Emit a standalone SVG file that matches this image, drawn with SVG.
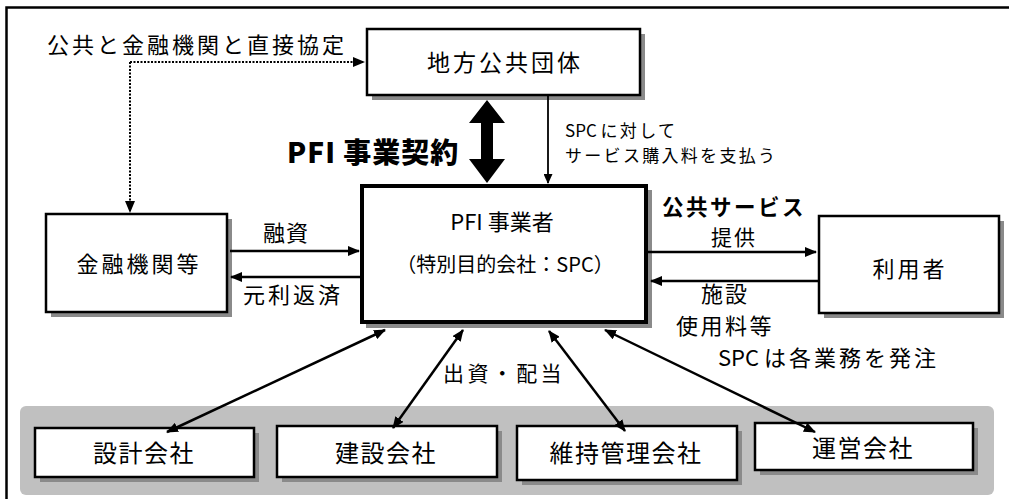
<svg xmlns="http://www.w3.org/2000/svg" width="1009" height="499" viewBox="0 0 1009 499">
<style>
text{font-family:"Noto Sans CJK JP","Noto Sans",sans-serif;fill:#000}
.box{fill:#fff;stroke:#000;stroke-width:2.5}
.shadow{fill:#8a8a8a}
.lbl{font-size:22px;letter-spacing:3px}
.bl{font-size:24px;letter-spacing:1.5px;text-anchor:middle}
.c{text-anchor:middle}
.ln{stroke:#000;stroke-width:2.5;fill:none}
</style>
<defs>
<marker id="ah" viewBox="0 0 12 10" markerWidth="12" markerHeight="10" refX="11" refY="5" orient="auto-start-reverse" markerUnits="userSpaceOnUse">
<path d="M0,0 L12,5 L0,10 z" fill="#000"/>
</marker>
<marker id="ahs" viewBox="0 0 10 9" markerWidth="10" markerHeight="9" refX="9" refY="4.5" orient="auto" markerUnits="userSpaceOnUse">
<path d="M0,0 L10,4.5 L0,9 z" fill="#000"/>
</marker>
</defs>
<rect width="1009" height="499" fill="#fff"/>
<path d="M6.5,499 L6.5,7.5 L1009,7.5" fill="none" stroke="#000" stroke-width="2.5"/>
<rect id="panel" x="20" y="406" width="974" height="89" rx="6" fill="#c0c0c0"/>

<g id="n-chihou">
<rect class="shadow" x="372" y="34" width="273" height="66"/>
<rect class="box" x="367" y="29" width="273" height="66"/>
<text class="c" x="505" y="70.5" style="font-size:23px;letter-spacing:3px">地方公共団体</text>
</g>

<g id="n-kinyu">
<rect class="shadow" x="51" y="219" width="181" height="98"/>
<rect class="box" x="46" y="214" width="181" height="98"/>
<text class="lbl c" x="139" y="272">金融機関等</text>
</g>

<g id="n-pfi">
<rect class="shadow" x="366" y="190" width="286" height="138"/>
<rect x="362" y="186" width="284" height="136" fill="#fff" stroke="#000" stroke-width="4"/>
<text class="c" x="502" y="230" style="font-size:22px">PFI 事業者</text>
<text class="c" x="505" y="271.5" style="font-size:20px">（特別目的会社：SPC）</text>
</g>

<g id="n-riyou">
<rect class="shadow" x="824" y="221" width="180" height="97"/>
<rect class="box" x="819" y="216" width="180" height="97"/>
<text class="lbl c" x="910" y="276.5">利用者</text>
</g>

<g id="n-sekkei">
<rect class="shadow" x="40" y="433" width="219" height="49"/>
<rect class="box" x="35" y="428" width="219" height="49"/>
<text class="bl" x="144" y="462">設計会社</text>
</g>
<g id="n-kensetsu">
<rect class="shadow" x="282" y="431" width="220" height="51"/>
<rect class="box" x="277" y="426" width="220" height="51"/>
<text class="bl" x="386" y="462">建設会社</text>
</g>
<g id="n-iji">
<rect class="shadow" x="522" y="431" width="220" height="54"/>
<rect class="box" x="517" y="426" width="220" height="54"/>
<text class="bl" x="626" y="462">維持管理会社</text>
</g>
<g id="n-unei">
<rect class="shadow" x="760" y="428" width="218" height="47"/>
<rect class="box" x="755" y="423" width="218" height="47"/>
<text class="bl" x="863" y="457">運営会社</text>
</g>

<g id="connectors">
<path d="M130,62 L364,62" stroke="#000" stroke-width="2" stroke-dasharray="2,1.5" fill="none" marker-end="url(#ah)"/>
<path d="M130,62 L130,212" stroke="#000" stroke-width="2" stroke-dasharray="2,1.5" fill="none" marker-end="url(#ah)"/>
<polygon points="487,100 505,123 493,123 493,159 505,159 487,183 469,159 481,159 481,123 469,123" fill="#000"/>
<path d="M548,96 L548,183" stroke="#000" stroke-width="1.8" fill="none" marker-end="url(#ahs)"/>
<path class="ln" d="M230,251 L359,251" marker-end="url(#ah)"/>
<path class="ln" d="M361,277 L231,277" marker-end="url(#ah)"/>
<path class="ln" d="M648,252 L816,252" marker-end="url(#ah)"/>
<path class="ln" d="M819,281 L651,281" marker-end="url(#ah)"/>
<path class="ln" d="M385,330 L167,432" marker-start="url(#ah)" marker-end="url(#ah)"/>
<path class="ln" d="M463,330 L393,428" marker-start="url(#ah)" marker-end="url(#ah)"/>
<path class="ln" d="M549,331 L625,431" marker-start="url(#ah)" marker-end="url(#ah)"/>
<path class="ln" d="M605,330 L815,432" marker-start="url(#ah)" marker-end="url(#ah)"/>
</g>

<g id="labels">
<text x="47" y="53" style="font-size:22px;letter-spacing:3px">公共と金融機関と直接協定</text>
<text x="287" y="163" style="font-size:28px;font-weight:900;letter-spacing:1px">PFI 事業契約</text>
<text x="565" y="136.5" style="font-size:17px">SPC <tspan style="letter-spacing:2.3px">に対して</tspan></text>
<text x="565" y="161.5" style="font-size:17px;letter-spacing:2.3px">サービス購入料を支払う</text>
<text x="662" y="214.5" style="font-size:21.5px;font-weight:bold;letter-spacing:2.5px">公共サービス</text>
<text class="c" x="734" y="245" style="font-size:21px;letter-spacing:2px">提供</text>
<text x="263" y="241" style="font-size:22px;letter-spacing:1px">融資</text>
<text x="243" y="303" style="font-size:22px;letter-spacing:3px">元利返済</text>
<text class="c" x="725" y="301.5" style="font-size:22px;letter-spacing:2px">施設</text>
<text class="c" x="725" y="333.5" style="font-size:22px;letter-spacing:2.5px">使用料等</text>
<text x="443" y="381" style="font-size:21px;letter-spacing:3.4px">出資・配当</text>
<text x="718" y="366" style="font-size:22px">SPC <tspan style="letter-spacing:3px">は各業務を発注</tspan></text>
</g>
</svg>
